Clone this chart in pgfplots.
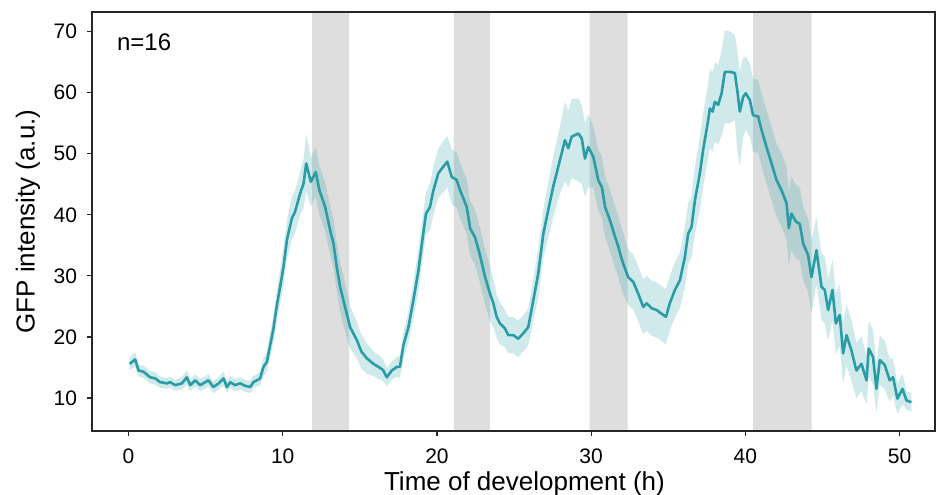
\documentclass[border=0pt]{standalone}
\usepackage{fontspec}
\setmainfont{Liberation Sans}
\usepackage{pgfplots}
\pgfplotsset{compat=1.18}
\usepackage{pgfplotstable}
\usepgfplotslibrary{fillbetween}

\definecolor{gfp}{HTML}{2A9CA5}
\definecolor{shade}{HTML}{DEDEDE}

% mean GFP intensity with lower/upper edge of the shaded band
\pgfplotstableread{
x y lo hi
0.07 15.6 14.6 16.6
0.43 16.3 15.1 17.5
0.65 14.5 13.5 15.5
0.97 14.3 13.3 15.3
1.40 13.4 12.4 14.4
1.73 13.2 12.2 14.2
2.05 12.6 11.7 13.5
2.49 12.4 11.5 13.3
2.70 12.6 11.7 13.5
3.03 12.1 11.2 13.0
3.46 12.4 11.4 13.4
3.78 13.4 12.2 14.6
4.00 12.1 11.1 13.1
4.32 12.9 11.9 13.9
4.65 12.1 11.1 13.1
5.18 12.9 11.9 13.9
5.50 11.8 10.8 12.8
5.85 12.4 11.4 13.4
6.16 13.2 12.0 14.4
6.38 11.8 10.8 12.8
6.60 12.6 11.6 13.6
6.90 12.1 11.1 13.1
7.24 12.4 11.4 13.4
7.55 12.0 11.0 13.0
7.89 11.8 10.8 12.8
8.10 12.6 11.6 13.6
8.32 12.9 11.9 13.9
8.53 13.2 12.0 14.4
8.75 15.1 13.6 16.6
8.97 15.9 14.3 17.5
9.18 18.6 16.6 20.6
9.40 21.4 19.2 23.6
9.60 24.9 22.4 27.4
9.83 28.2 25.4 31.0
10.05 31.5 28.5 34.5
10.27 35.9 32.7 39.1
10.59 39.4 35.9 42.9
10.80 40.5 37.0 44.0
11.13 43.5 40.0 47.0
11.35 45.1 41.1 49.1
11.52 48.4 43.9 53.3
11.82 45.4 41.4 49.4
12.14 47.0 43.0 51.0
12.38 44.0 40.0 48.0
12.75 41.3 37.3 45.3
13.07 37.5 33.5 41.5
13.29 35.3 31.3 39.3
13.50 31.5 27.5 35.5
13.72 28.2 24.2 32.2
14.04 24.9 20.9 28.9
14.37 21.6 18.1 25.1
14.80 19.5 16.5 22.5
15.10 17.6 14.8 20.4
15.45 16.5 14.0 19.0
15.88 15.6 13.6 17.6
16.20 15.1 13.1 17.1
16.50 14.6 12.8 16.4
16.75 13.4 11.9 14.9
17.07 14.5 13.0 16.0
17.40 15.1 13.5 16.7
17.60 15.1 13.3 16.9
17.82 18.6 16.4 20.8
18.15 21.6 19.1 24.1
18.47 26.0 23.0 29.0
18.80 30.9 27.4 34.4
19.00 34.8 31.3 38.3
19.29 40.2 36.7 43.7
19.55 41.3 37.5 45.1
19.77 44.0 40.0 48.0
20.09 46.8 42.8 50.8
20.42 47.9 43.7 52.1
20.67 48.7 44.5 52.9
20.96 46.2 41.7 50.7
21.28 45.7 41.2 50.2
21.50 44.0 39.5 48.5
21.93 41.3 36.8 45.8
22.15 37.8 33.3 42.3
22.47 36.3 31.8 40.8
22.79 33.4 28.9 37.9
23.12 29.8 25.3 34.3
23.44 27.1 22.6 31.6
23.66 25.5 21.5 29.5
23.87 23.3 19.8 26.8
24.09 22.2 18.7 25.7
24.41 21.4 18.4 24.4
24.63 20.3 17.3 23.3
24.95 20.3 17.3 23.3
25.27 19.7 16.7 22.7
25.60 20.6 17.6 23.6
25.92 21.6 18.6 24.6
26.25 26.0 22.5 29.5
26.57 30.4 26.4 34.4
26.90 36.9 32.9 40.9
27.22 40.8 36.3 45.3
27.54 44.6 39.6 49.6
27.98 49.0 43.5 54.5
28.30 52.2 45.5 58.5
28.52 50.9 44.5 57.0
28.74 52.8 46.0 59.0
29.17 53.3 45.5 59.0
29.39 52.5 45.0 58.0
29.60 49.2 43.0 55.0
29.81 51.1 44.5 56.5
30.14 49.5 44.5 54.5
30.46 45.7 40.7 50.7
30.70 44.5 39.5 49.5
30.90 41.3 36.3 46.3
31.22 39.1 34.1 44.1
31.55 36.4 31.4 41.4
31.76 34.8 29.8 39.8
31.87 33.7 28.7 38.7
32.08 32.0 27.0 37.0
32.40 29.8 25.3 34.3
32.73 29.0 24.5 33.5
33.05 27.1 22.6 31.6
33.38 24.9 20.4 29.4
33.60 25.5 21.0 30.0
33.92 24.7 20.2 29.2
34.25 24.4 19.9 28.9
34.57 23.8 19.3 28.3
34.85 23.3 18.8 27.8
35.10 25.5 21.0 30.0
35.43 27.7 23.2 32.2
35.76 29.3 24.8 33.8
36.08 33.1 28.1 38.1
36.29 36.9 31.9 41.9
36.51 38.0 33.0 43.0
36.73 42.4 36.9 47.9
37.05 46.8 40.8 52.8
37.26 50.6 44.6 56.6
37.59 55.5 49.5 61.5
37.70 57.4 50.9 63.9
37.88 56.9 50.4 63.4
38.02 58.5 52.0 65.0
38.24 58.0 51.5 64.5
38.46 59.9 52.9 66.9
38.67 63.4 55.0 70.2
39.00 63.4 55.0 70.0
39.32 63.2 55.5 69.5
39.50 59.9 50.0 66.5
39.64 56.9 48.0 63.5
39.86 59.3 52.8 65.8
40.03 59.9 53.9 65.9
40.29 58.8 52.8 64.8
40.50 56.3 50.3 62.3
40.83 56.1 50.1 62.1
41.05 53.9 47.9 59.9
41.37 51.1 45.1 57.1
41.70 48.4 42.4 54.4
42.02 45.7 39.7 51.7
42.35 44.0 38.0 50.0
42.67 41.9 35.9 47.9
42.82 37.8 31.8 43.8
42.99 40.2 34.2 46.2
43.27 38.9 32.9 44.9
43.53 38.5 32.5 44.5
43.75 35.3 29.3 41.3
44.07 33.4 27.4 39.4
44.29 29.8 23.8 35.8
44.61 34.2 28.7 39.7
44.94 28.2 22.7 33.7
45.15 27.7 22.2 33.2
45.37 24.4 19.4 29.4
45.65 27.7 22.7 32.7
45.87 22.2 17.2 27.2
46.12 23.6 18.6 28.6
46.34 17.3 12.3 22.3
46.56 20.3 15.3 25.3
46.88 17.8 12.8 22.8
47.20 14.5 10.0 19.0
47.53 15.6 11.1 20.1
47.86 12.9 8.9 16.9
48.00 18.1 13.6 22.6
48.28 16.7 12.2 21.2
48.50 11.5 7.5 15.5
48.72 16.2 12.2 20.2
49.04 15.4 11.4 19.4
49.36 12.9 9.4 16.4
49.58 13.4 10.4 16.4
49.86 9.9 7.4 12.4
50.19 11.5 9.0 14.0
50.45 9.6 8.1 11.1
50.77 9.3 7.8 10.8
}\gfpdata

\begin{document}
\begin{tikzpicture}
\begin{axis}[
  set layers,
  scale only axis, width=421.5pt, height=209.5pt,
  xmin=-2.37, xmax=52.3, ymin=4.6, ymax=73.2,
  xtick={0,10,...,50}, ytick={10,20,...,70},
  tick align=outside, tick pos=left, major tick length=2.5pt,
  axis line style={line width=0.6pt, black!85},
  tick style={line width=0.6pt, black!85},
  /pgf/number format/assume math mode=true,
  ticklabel style={font=\fontsize{10.5}{12}\selectfont},
  xticklabel style={yshift=-3pt},
  yticklabel style={xshift=-1.5pt},
  xlabel={Time of development (h)},
  ylabel={GFP intensity (a.u.)},
  label style={font=\fontsize{13}{15}\selectfont},
  xlabel style={at={(axis description cs:0.513,0)}, anchor=base, yshift=-29.5pt},
  ylabel style={at={(axis description cs:-0.0759,0.5)}, anchor=center},
]
% imaging windows, kept behind the band (span exactly ymin..ymax)
\addplot[draw=none, fill=shade, on layer=axis background] coordinates {(11.9,4.6) (11.9,73.2) (14.3,73.2) (14.3,4.6) (11.9,4.6)};
\addplot[draw=none, fill=shade, on layer=axis background] coordinates {(21.1,4.6) (21.1,73.2) (23.44,73.2) (23.44,4.6) (21.1,4.6)};
\addplot[draw=none, fill=shade, on layer=axis background] coordinates {(29.9,4.6) (29.9,73.2) (32.37,73.2) (32.37,4.6) (29.9,4.6)};
\addplot[draw=none, fill=shade, on layer=axis background] coordinates {(40.5,4.6) (40.5,73.2) (44.3,73.2) (44.3,4.6) (40.5,4.6)};

\addplot[draw=none, name path=hi, forget plot] table[x=x, y=hi] {\gfpdata};
\addplot[draw=none, name path=lo, forget plot] table[x=x, y=lo] {\gfpdata};
\addplot[fill=gfp, fill opacity=0.22, draw=none] fill between[of=hi and lo];

\addplot[gfp, line width=1.3pt, line join=round] table[x=x, y=y] {\gfpdata};

\node[anchor=base west, font=\fontsize{12}{14}\selectfont] at (rel axis cs:0.0214,0.909) {n=16};
\end{axis}
\pgfresetboundingbox
\path ([shift={(-46pt,-32pt)}]current axis.south west) rectangle ([shift={(1pt,6pt)}]current axis.north east);
\end{tikzpicture}
\end{document}
